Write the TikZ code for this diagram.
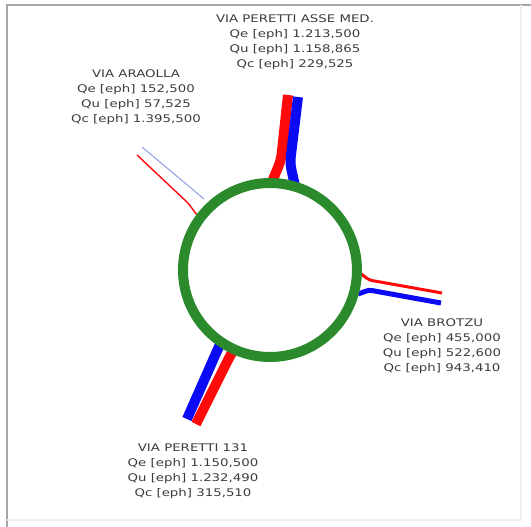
\documentclass[tikz,border=0pt]{standalone}
\usepackage{fontspec}
\setmainfont{DejaVu Sans}[FakeStretch=1.27]
\usepackage{tikz}
\usepackage{xcolor}
\usetikzlibrary{positioning}
\definecolor{Ring_Green}{HTML}{2B8A2B}
\definecolor{Flow_Red}{HTML}{FF0A0A}
\definecolor{Flow_Blue}{HTML}{0A0AF5}
\definecolor{Thin_Blue}{HTML}{8C9CE6}
\definecolor{Label_Gray}{HTML}{3C3C3C}

\tikzset{
    flowlabel/.style={align=center, text=Label_Gray, inner sep=0pt,
        font=\fontsize{10.5}{15}\selectfont},
    wideflow/.style={line width=10pt, rounded corners=6pt},
}

\begin{document}
\begin{tikzpicture}[x=1pt, y=-1pt]
    \useasboundingbox (0,0) rectangle (531,527);
    % frame
    \draw[gray!70, line width=2pt] (7,527) -- (7,5) -- (531,5);
    \draw[gray!12, line width=1.5pt] (521,5) -- (521,520) -- (7,520);

    % Via Peretti asse med. (top)
    \draw[wideflow, Flow_Red] (288,95) -- (281,160) -- (272,182);
    \draw[wideflow, Flow_Blue] (298,97) -- (290,163) -- (295,186);
    % Via Brotzu (right)
    \draw[Flow_Red, line width=3pt, rounded corners=3pt] (360,273) -- (369,280) -- (442,293);
    \draw[Flow_Blue, line width=5pt, rounded corners=3pt] (358,294) -- (369,290) -- (441,303);
    % Via Peretti 131 (bottom)
    \draw[wideflow, Flow_Blue] (187,419) -- (217,351) -- (222,340);
    \draw[wideflow, Flow_Red] (196,424) -- (229,358) -- (234,349);
    % Via Araolla (top left)
    \draw[Flow_Red, line width=1.4pt, rounded corners=3pt] (137,155) -- (188,203) -- (197,215);
    \draw[Thin_Blue, line width=1pt] (142,147) -- (204,199);

    % ring
    \coordinate (ring) at (270,270);
    \draw[Ring_Green, line width=10pt] (ring) circle[radius=87];

    % labels
    \node[flowlabel] (lblMed) at (295,42) {VIA PERETTI ASSE MED.\\Qe [eph] 1.213,500\\Qu [eph] 1.158,865\\Qc [eph] 229,525};
    \node[flowlabel] (lblAraolla) at (136,97) {VIA ARAOLLA\\Qe [eph] 152,500\\Qu [eph] 57,525\\Qc [eph] 1.395,500};
    \node[flowlabel] (lblBrotzu) at (442,346) {VIA BROTZU\\Qe [eph] 455,000\\Qu [eph] 522,600\\Qc [eph] 943,410};
    \node[flowlabel] (lbl131) at (193,471) {VIA PERETTI 131\\Qe [eph] 1.150,500\\Qu [eph] 1.232,490\\Qc [eph] 315,510};
\end{tikzpicture}
\end{document}
